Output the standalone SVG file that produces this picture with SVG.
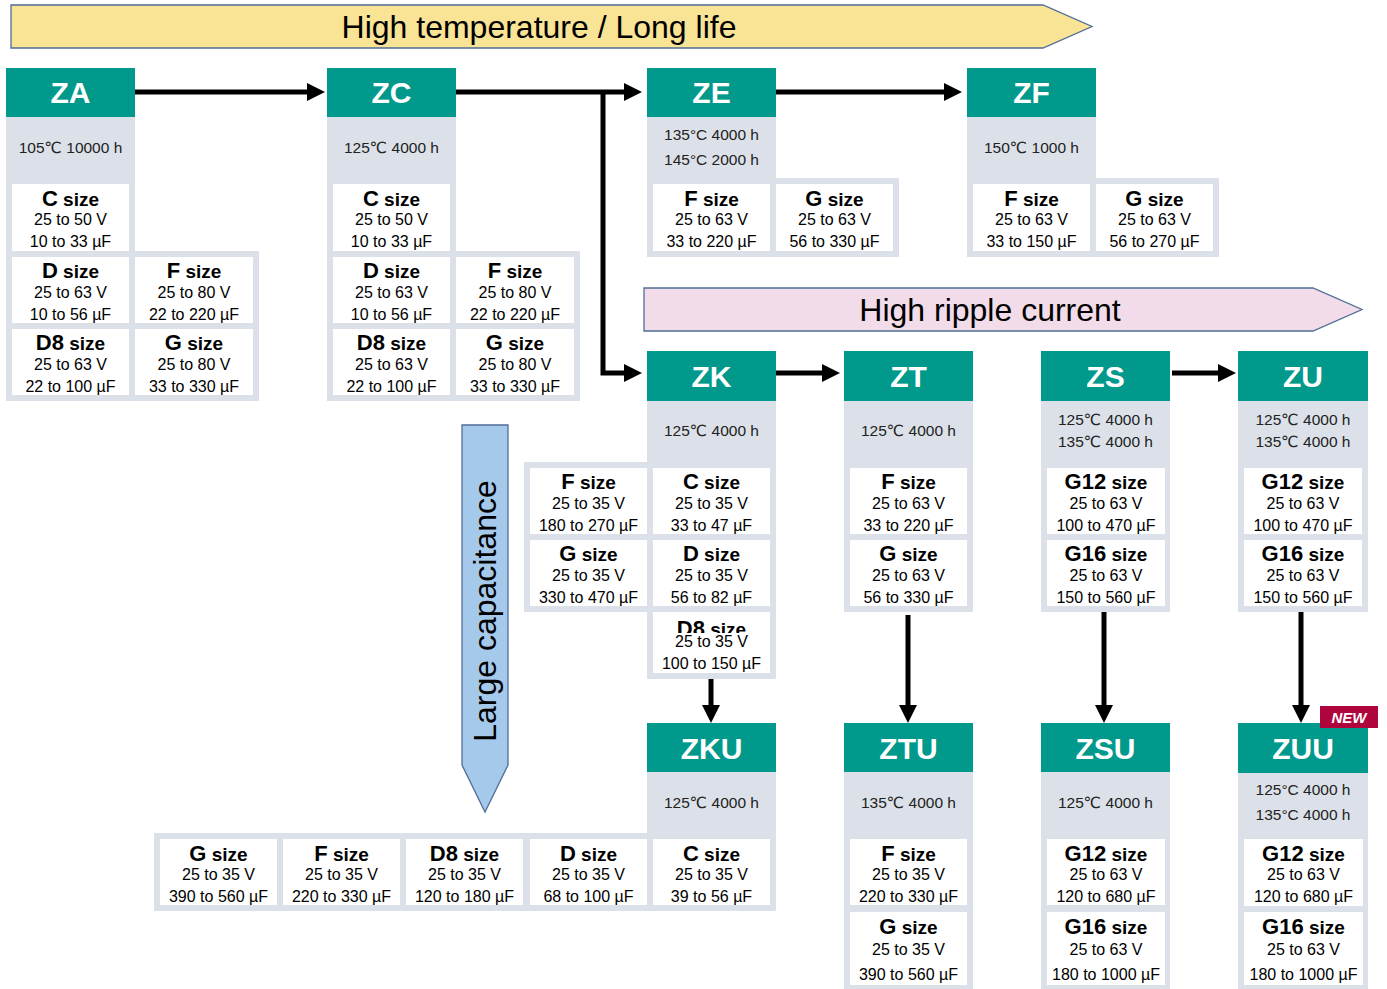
<svg xmlns="http://www.w3.org/2000/svg" width="1387" height="989" viewBox="0 0 1387 989">
<style>
text{font-family:"Liberation Sans",Arial,"DejaVu Sans",sans-serif}
.hd{fill:#00998b}
.bg{fill:#dce1e9}
.cd{fill:#fff}
.ht{font-size:30px;font-weight:bold;fill:#fff;text-anchor:middle}
.it{font-size:15.5px;fill:#222;text-anchor:middle}
.tl{font-size:22px;font-weight:bold;fill:#000;text-anchor:middle}
.sz{font-size:19px}
.tx{font-size:16px;fill:#000;text-anchor:middle}
.bn{stroke:#4f6d96;stroke-width:1.3}
.bt{font-size:32px;fill:#000;text-anchor:middle}
.cn{fill:none;stroke:#000;stroke-width:5;stroke-linejoin:miter}
</style>
<defs>
<marker id="ah" markerUnits="userSpaceOnUse" markerWidth="18" markerHeight="18" refX="0" refY="9" orient="auto" overflow="visible">
<path d="M0,0 L18,9 L0,18 z" fill="#000"/>
</marker>
<clipPath id="d8clip"><rect x="653" y="612" width="117" height="21"/></clipPath>
</defs>

<g id="banner-temp">
<polygon class="bn" points="11,5 1043,5 1092,26.5 1043,48 11,48" fill="#f9e395"/>
<text class="bt" x="539" y="38">High temperature / Long life</text>
</g>
<g id="banner-ripple">
<polygon class="bn" points="644,288 1313,288 1362,309.5 1313,331 644,331" fill="#f2dcea"/>
<text class="bt" x="990" y="321">High ripple current</text>
</g>
<g id="banner-cap">
<polygon class="bn" points="462,425 508,425 508,765 485,812 462,765" fill="#a5c9ea"/>
<text class="bt" transform="translate(496,611) rotate(-90)" x="0" y="0">Large capacitance</text>
</g>

<g id="connectors">
<path class="cn" d="M135,92 H307" marker-end="url(#ah)"/>
<path class="cn" d="M456,92 H624" marker-end="url(#ah)"/>
<path class="cn" d="M603,90 V373 H624" marker-end="url(#ah)"/>
<path class="cn" d="M776,92 H944" marker-end="url(#ah)"/>
<path class="cn" d="M776,373 H822" marker-end="url(#ah)"/>
<path class="cn" d="M1172,373 H1218" marker-end="url(#ah)"/>
<path class="cn" d="M711,679 V705" marker-end="url(#ah)"/>
<path class="cn" d="M908,615 V705" marker-end="url(#ah)"/>
<path class="cn" d="M1104,612 V705" marker-end="url(#ah)"/>
<path class="cn" d="M1301,612 V705" marker-end="url(#ah)"/>
</g>

<g id="ZA">
<rect class="bg" x="6" y="117" width="129" height="284"/>
<rect class="bg" x="135" y="251" width="124" height="150"/>
<rect class="hd" x="6" y="68" width="129" height="49"/>
<text class="ht" x="70.5" y="103">ZA</text>
<text class="it" x="70.5" y="152.5">105℃ 10000 h</text>
<rect class="cd" x="12" y="184" width="117" height="67"/>
<text class="tl" x="70.5" y="206">C<tspan class="sz"> size</tspan></text>
<text class="tx" x="70.5" y="225">25 to 50 V</text>
<text class="tx" x="70.5" y="247">10 to 33 µF</text>
<rect class="cd" x="12" y="257" width="117" height="66"/>
<text class="tl" x="70.5" y="278">D<tspan class="sz"> size</tspan></text>
<text class="tx" x="70.5" y="298">25 to 63 V</text>
<text class="tx" x="70.5" y="320">10 to 56 µF</text>
<rect class="cd" x="135" y="257" width="118" height="66"/>
<text class="tl" x="194" y="278">F<tspan class="sz"> size</tspan></text>
<text class="tx" x="194" y="298">25 to 80 V</text>
<text class="tx" x="194" y="320">22 to 220 µF</text>
<rect class="cd" x="12" y="329" width="117" height="66"/>
<text class="tl" x="70.5" y="350">D8<tspan class="sz"> size</tspan></text>
<text class="tx" x="70.5" y="370">25 to 63 V</text>
<text class="tx" x="70.5" y="392">22 to 100 µF</text>
<rect class="cd" x="135" y="329" width="118" height="66"/>
<text class="tl" x="194" y="350">G<tspan class="sz"> size</tspan></text>
<text class="tx" x="194" y="370">25 to 80 V</text>
<text class="tx" x="194" y="392">33 to 330 µF</text>
</g>

<g id="ZC">
<rect class="bg" x="327" y="117" width="129" height="284"/>
<rect class="bg" x="456" y="251" width="124" height="150"/>
<rect class="hd" x="327" y="68" width="129" height="49"/>
<text class="ht" x="391.5" y="103">ZC</text>
<text class="it" x="391.5" y="152.5">125℃ 4000 h</text>
<rect class="cd" x="333" y="184" width="117" height="67"/>
<text class="tl" x="391.5" y="206">C<tspan class="sz"> size</tspan></text>
<text class="tx" x="391.5" y="225">25 to 50 V</text>
<text class="tx" x="391.5" y="247">10 to 33 µF</text>
<rect class="cd" x="333" y="257" width="117" height="66"/>
<text class="tl" x="391.5" y="278">D<tspan class="sz"> size</tspan></text>
<text class="tx" x="391.5" y="298">25 to 63 V</text>
<text class="tx" x="391.5" y="320">10 to 56 µF</text>
<rect class="cd" x="456" y="257" width="118" height="66"/>
<text class="tl" x="515" y="278">F<tspan class="sz"> size</tspan></text>
<text class="tx" x="515" y="298">25 to 80 V</text>
<text class="tx" x="515" y="320">22 to 220 µF</text>
<rect class="cd" x="333" y="329" width="117" height="66"/>
<text class="tl" x="391.5" y="350">D8<tspan class="sz"> size</tspan></text>
<text class="tx" x="391.5" y="370">25 to 63 V</text>
<text class="tx" x="391.5" y="392">22 to 100 µF</text>
<rect class="cd" x="456" y="329" width="118" height="66"/>
<text class="tl" x="515" y="350">G<tspan class="sz"> size</tspan></text>
<text class="tx" x="515" y="370">25 to 80 V</text>
<text class="tx" x="515" y="392">33 to 330 µF</text>
</g>

<g id="ZE">
<rect class="bg" x="647" y="117" width="129" height="61"/>
<rect class="bg" x="647" y="178" width="252" height="79"/>
<rect class="hd" x="647" y="68" width="129" height="49"/>
<text class="ht" x="711.5" y="103">ZE</text>
<text class="it" x="711.5" y="139.5">135°C 4000 h</text>
<text class="it" x="711.5" y="164.5">145°C 2000 h</text>
<rect class="cd" x="653" y="184" width="117" height="67"/>
<text class="tl" x="711.5" y="206">F<tspan class="sz"> size</tspan></text>
<text class="tx" x="711.5" y="225">25 to 63 V</text>
<text class="tx" x="711.5" y="247">33 to 220 µF</text>
<rect class="cd" x="776" y="184" width="117" height="67"/>
<text class="tl" x="834.5" y="206">G<tspan class="sz"> size</tspan></text>
<text class="tx" x="834.5" y="225">25 to 63 V</text>
<text class="tx" x="834.5" y="247">56 to 330 µF</text>
</g>

<g id="ZF">
<rect class="bg" x="967" y="117" width="129" height="61"/>
<rect class="bg" x="967" y="178" width="252" height="79"/>
<rect class="hd" x="967" y="68" width="129" height="49"/>
<text class="ht" x="1031.5" y="103">ZF</text>
<text class="it" x="1031.5" y="152.5">150℃ 1000 h</text>
<rect class="cd" x="973" y="184" width="117" height="67"/>
<text class="tl" x="1031.5" y="206">F<tspan class="sz"> size</tspan></text>
<text class="tx" x="1031.5" y="225">25 to 63 V</text>
<text class="tx" x="1031.5" y="247">33 to 150 µF</text>
<rect class="cd" x="1096" y="184" width="117" height="67"/>
<text class="tl" x="1154.5" y="206">G<tspan class="sz"> size</tspan></text>
<text class="tx" x="1154.5" y="225">25 to 63 V</text>
<text class="tx" x="1154.5" y="247">56 to 270 µF</text>
</g>

<g id="ZK">
<rect class="bg" x="647" y="401" width="129" height="278"/>
<rect class="bg" x="524" y="462" width="123" height="150"/>
<rect class="hd" x="647" y="351" width="129" height="50"/>
<text class="ht" x="711.5" y="387">ZK</text>
<text class="it" x="711.5" y="436">125℃ 4000 h</text>
<rect class="cd" x="530" y="468" width="117" height="66"/>
<text class="tl" x="588.5" y="489">F<tspan class="sz"> size</tspan></text>
<text class="tx" x="588.5" y="509">25 to 35 V</text>
<text class="tx" x="588.5" y="531">180 to 270 µF</text>
<rect class="cd" x="653" y="468" width="117" height="66"/>
<text class="tl" x="711.5" y="489">C<tspan class="sz"> size</tspan></text>
<text class="tx" x="711.5" y="509">25 to 35 V</text>
<text class="tx" x="711.5" y="531">33 to 47 µF</text>
<rect class="cd" x="530" y="540" width="117" height="66"/>
<text class="tl" x="588.5" y="561">G<tspan class="sz"> size</tspan></text>
<text class="tx" x="588.5" y="581">25 to 35 V</text>
<text class="tx" x="588.5" y="603">330 to 470 µF</text>
<rect class="cd" x="653" y="540" width="117" height="66"/>
<text class="tl" x="711.5" y="561">D<tspan class="sz"> size</tspan></text>
<text class="tx" x="711.5" y="581">25 to 35 V</text>
<text class="tx" x="711.5" y="603">56 to 82 µF</text>
<rect class="cd" x="653" y="612" width="117" height="61"/>
<text class="tl" x="711.5" y="636" clip-path="url(#d8clip)">D8<tspan class="sz"> size</tspan></text>
<text class="tx" x="711.5" y="647">25 to 35 V</text>
<text class="tx" x="711.5" y="669">100 to 150 µF</text>
</g>

<g id="ZT">
<rect class="bg" x="844" y="401" width="129" height="211"/>
<rect class="hd" x="844" y="351" width="129" height="50"/>
<text class="ht" x="908.5" y="387">ZT</text>
<text class="it" x="908.5" y="436">125℃ 4000 h</text>
<rect class="cd" x="850" y="468" width="117" height="66"/>
<text class="tl" x="908.5" y="489">F<tspan class="sz"> size</tspan></text>
<text class="tx" x="908.5" y="509">25 to 63 V</text>
<text class="tx" x="908.5" y="531">33 to 220 µF</text>
<rect class="cd" x="850" y="540" width="117" height="66"/>
<text class="tl" x="908.5" y="561">G<tspan class="sz"> size</tspan></text>
<text class="tx" x="908.5" y="581">25 to 63 V</text>
<text class="tx" x="908.5" y="603">56 to 330 µF</text>
</g>

<g id="ZS">
<rect class="bg" x="1041" y="401" width="129" height="211"/>
<rect class="hd" x="1041" y="351" width="129" height="50"/>
<text class="ht" x="1105.5" y="387">ZS</text>
<text class="it" x="1105.5" y="425">125℃ 4000 h</text>
<text class="it" x="1105.5" y="447">135℃ 4000 h</text>
<rect class="cd" x="1047" y="468" width="118" height="66"/>
<text class="tl" x="1106" y="489">G12<tspan class="sz"> size</tspan></text>
<text class="tx" x="1106" y="509">25 to 63 V</text>
<text class="tx" x="1106" y="531">100 to 470 µF</text>
<rect class="cd" x="1047" y="540" width="118" height="66"/>
<text class="tl" x="1106" y="561">G16<tspan class="sz"> size</tspan></text>
<text class="tx" x="1106" y="581">25 to 63 V</text>
<text class="tx" x="1106" y="603">150 to 560 µF</text>
</g>

<g id="ZU">
<rect class="bg" x="1238" y="401" width="130" height="211"/>
<rect class="hd" x="1238" y="351" width="130" height="50"/>
<text class="ht" x="1303" y="387">ZU</text>
<text class="it" x="1303" y="425">125℃ 4000 h</text>
<text class="it" x="1303" y="447">135℃ 4000 h</text>
<rect class="cd" x="1244" y="468" width="118" height="66"/>
<text class="tl" x="1303" y="489">G12<tspan class="sz"> size</tspan></text>
<text class="tx" x="1303" y="509">25 to 63 V</text>
<text class="tx" x="1303" y="531">100 to 470 µF</text>
<rect class="cd" x="1244" y="540" width="118" height="66"/>
<text class="tl" x="1303" y="561">G16<tspan class="sz"> size</tspan></text>
<text class="tx" x="1303" y="581">25 to 63 V</text>
<text class="tx" x="1303" y="603">150 to 560 µF</text>
</g>

<g id="ZKU">
<rect class="bg" x="647" y="772" width="129" height="139"/>
<rect class="bg" x="154" y="833" width="493" height="78"/>
<rect class="hd" x="647" y="723" width="129" height="49"/>
<text class="ht" x="711.5" y="759">ZKU</text>
<text class="it" x="711.5" y="807.5">125℃ 4000 h</text>
<rect class="cd" x="160" y="839" width="117" height="66"/>
<text class="tl" x="218.5" y="861">G<tspan class="sz"> size</tspan></text>
<text class="tx" x="218.5" y="880">25 to 35 V</text>
<text class="tx" x="218.5" y="902">390 to 560 µF</text>
<rect class="cd" x="283" y="839" width="117" height="66"/>
<text class="tl" x="341.5" y="861">F<tspan class="sz"> size</tspan></text>
<text class="tx" x="341.5" y="880">25 to 35 V</text>
<text class="tx" x="341.5" y="902">220 to 330 µF</text>
<rect class="cd" x="406" y="839" width="117" height="66"/>
<text class="tl" x="464.5" y="861">D8<tspan class="sz"> size</tspan></text>
<text class="tx" x="464.5" y="880">25 to 35 V</text>
<text class="tx" x="464.5" y="902">120 to 180 µF</text>
<rect class="cd" x="530" y="839" width="117" height="66"/>
<text class="tl" x="588.5" y="861">D<tspan class="sz"> size</tspan></text>
<text class="tx" x="588.5" y="880">25 to 35 V</text>
<text class="tx" x="588.5" y="902">68 to 100 µF</text>
<rect class="cd" x="653" y="839" width="117" height="66"/>
<text class="tl" x="711.5" y="861">C<tspan class="sz"> size</tspan></text>
<text class="tx" x="711.5" y="880">25 to 35 V</text>
<text class="tx" x="711.5" y="902">39 to 56 µF</text>
</g>

<g id="ZTU">
<rect class="bg" x="844" y="772" width="129" height="217"/>
<rect class="hd" x="844" y="723" width="129" height="49"/>
<text class="ht" x="908.5" y="759">ZTU</text>
<text class="it" x="908.5" y="807.5">135℃ 4000 h</text>
<rect class="cd" x="850" y="839" width="117" height="66"/>
<text class="tl" x="908.5" y="861">F<tspan class="sz"> size</tspan></text>
<text class="tx" x="908.5" y="880">25 to 35 V</text>
<text class="tx" x="908.5" y="902">220 to 330 µF</text>
<rect class="cd" x="850" y="912" width="117" height="73"/>
<text class="tl" x="908.5" y="934">G<tspan class="sz"> size</tspan></text>
<text class="tx" x="908.5" y="955">25 to 35 V</text>
<text class="tx" x="908.5" y="980">390 to 560 µF</text>
</g>

<g id="ZSU">
<rect class="bg" x="1041" y="772" width="129" height="217"/>
<rect class="hd" x="1041" y="723" width="129" height="49"/>
<text class="ht" x="1105.5" y="759">ZSU</text>
<text class="it" x="1105.5" y="807.5">125℃ 4000 h</text>
<rect class="cd" x="1047" y="839" width="118" height="66"/>
<text class="tl" x="1106" y="861">G12<tspan class="sz"> size</tspan></text>
<text class="tx" x="1106" y="880">25 to 63 V</text>
<text class="tx" x="1106" y="902">120 to 680 µF</text>
<rect class="cd" x="1047" y="912" width="118" height="73"/>
<text class="tl" x="1106" y="934">G16<tspan class="sz"> size</tspan></text>
<text class="tx" x="1106" y="955">25 to 63 V</text>
<text class="tx" x="1106" y="980">180 to 1000 µF</text>
</g>

<g id="ZUU">
<rect class="bg" x="1238" y="773" width="130" height="216"/>
<rect class="hd" x="1238" y="723" width="130" height="50"/>
<text class="ht" x="1303" y="759">ZUU</text>
<text class="it" x="1303" y="794.5">125°C 4000 h</text>
<text class="it" x="1303" y="819.5">135°C 4000 h</text>
<rect class="cd" x="1244" y="839" width="119" height="67"/>
<text class="tl" x="1303.5" y="861">G12<tspan class="sz"> size</tspan></text>
<text class="tx" x="1303.5" y="880">25 to 63 V</text>
<text class="tx" x="1303.5" y="902">120 to 680 µF</text>
<rect class="cd" x="1244" y="912" width="119" height="73"/>
<text class="tl" x="1303.5" y="934">G16<tspan class="sz"> size</tspan></text>
<text class="tx" x="1303.5" y="955">25 to 63 V</text>
<text class="tx" x="1303.5" y="980">180 to 1000 µF</text>
<rect x="1320" y="706" width="58" height="22" fill="#b0043c"/>
<text x="1349" y="723" font-size="15" font-weight="bold" font-style="italic" fill="#fff" text-anchor="middle">NEW</text>
</g>
</svg>
